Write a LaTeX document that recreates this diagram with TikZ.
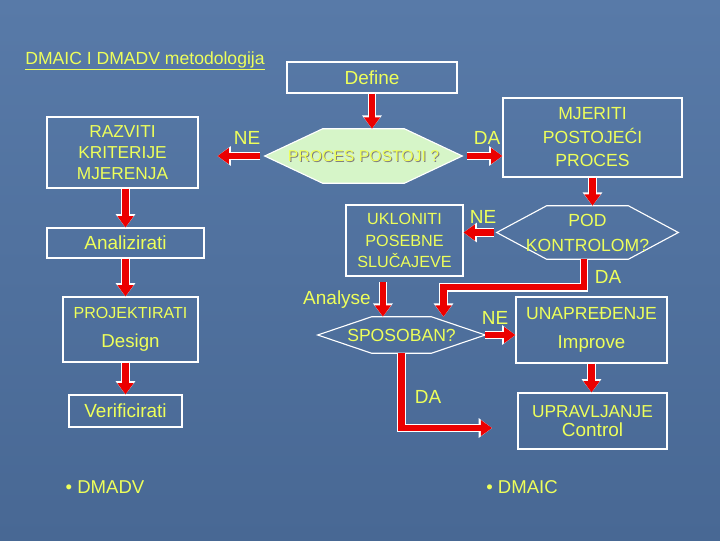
\documentclass[tikz,border=0pt]{standalone}
\usepackage{fontspec}
\setmainfont{Liberation Sans}
\usetikzlibrary{arrows.meta}
\definecolor{slidebluetop}{RGB}{88,122,168}
\definecolor{slidebluebot}{RGB}{72,104,148}
\definecolor{txtyellow}{RGB}{238,255,90}
\definecolor{arrowred}{RGB}{235,0,0}
\definecolor{lightgreen}{RGB}{214,245,200}
\pgfdeclarelayer{back}
\pgfdeclarelayer{mid}
\pgfsetlayers{back,mid,main}
\newcommand{\hexframe}[3][]{%
  \draw [draw=white, line width=0.8pt, #1] (#2.west) -- ([xshift=#3]#2.north west) -- ([xshift=-#3]#2.north east)
    -- (#2.east) -- ([xshift=-#3]#2.south east) -- ([xshift=#3]#2.south west) -- cycle;}

\begin{document}
\begin{tikzpicture}[x=0.025cm,y=-0.025cm,
    box/.style={draw=white, line width=0.8pt, text=txtyellow, align=center, inner sep=0pt},
    hexa/.style={text=txtyellow, align=center, inner sep=0pt},
    caps/.style={font=\fontsize{12.3}{15}\selectfont},
    words/.style={font=\fontsize{13.5}{16}\selectfont},
    lbl/.style={text=txtyellow, font=\fontsize{13.5}{16}\selectfont},
    redarrow/.style={draw=arrowred, line width=4.5pt, -{Triangle[length=8pt,width=11pt]},
      preaction={draw=white, line width=6pt, -{Triangle[length=9.5pt,width=13.5pt]}}}]
      \useasboundingbox (0,0) rectangle (720,540);
      \begin{pgfonlayer}{back}
        \shade [top color=slidebluetop, bottom color=slidebluebot] (0,0) rectangle (720,540);
      \end{pgfonlayer}

      \node [lbl, font=\fontsize{12.5}{15}\selectfont] (title) at (145,61) {\underline{DMAIC I DMADV metodologija}};

      \node [box, words, minimum width=4.25cm, minimum height=0.775cm] (define) at (372,77.5) {Define};
      \node [hexa, minimum width=4.925cm, minimum height=1.35cm,
        font=\fontsize{11.2}{13}\selectfont] (proces) at (363.5,156) {PROCES POSTOJI ?};
      \node [box, caps, minimum width=3.775cm, minimum height=1.775cm] (razviti) at (122.5,152.5) {RAZVITI\\KRITERIJE\\MJERENJA};
      \node [box, font=\fontsize{12.5}{16.7}\selectfont, minimum width=4.475cm, minimum height=1.975cm] (mjeriti) at (592.5,137.5) {MJERITI\\POSTOJEĆI\\PROCES};
      \node [hexa, font=\fontsize{12.5}{17.8}\selectfont, minimum width=4.525cm, minimum height=1.325cm] (pod) at (587.5,232.5) {POD\\KONTROLOM?};
      \node [box, font=\fontsize{11.5}{15.3}\selectfont, minimum width=2.925cm, minimum height=1.775cm] (ukloniti) at (404.5,240.5) {UKLONITI\\POSEBNE\\SLUČAJEVE};
      \node [hexa, font=\fontsize{12.5}{15}\selectfont, minimum width=4.175cm, minimum height=0.9cm] (sposoban) at (401.5,335) {SPOSOBAN?};
      \node [box, minimum width=3.775cm, minimum height=1.65cm] (unapredjenje) at (591.5,330)
        {\fontsize{12.5}{15}\selectfont UNAPREĐENJE\\[9pt]\fontsize{13.3}{16}\selectfont Improve};
      \node [box, minimum width=3.725cm, minimum height=1.4cm] (upravljanje) at (592.5,421)
        {\fontsize{12.3}{15}\selectfont UPRAVLJANJE\\[2pt]\fontsize{13.5}{16}\selectfont Control};

      \node [box, words, minimum width=3.925cm, minimum height=0.75cm] (analizirati) at (125.5,243) {Analizirati};
      \node [box, minimum width=3.375cm, minimum height=1.625cm] (projektirati) at (130.5,329.5)
        {\fontsize{11.4}{14}\selectfont PROJEKTIRATI\\[9pt]\fontsize{13.3}{16}\selectfont Design};
      \node [box, words, minimum width=2.825cm, minimum height=0.8cm] (verificirati) at (125.5,411) {Verificirati};

      \begin{pgfonlayer}{mid}
        \hexframe[fill=lightgreen]{proces}{1.45cm}
        \hexframe{pod}{1.25cm}
        \hexframe{sposoban}{1.35cm}
        \node [text=black!50, font=\fontsize{11.2}{13}\selectfont, inner sep=0pt] (processhadow)
          at ([xshift=0.7pt,yshift=-0.7pt]proces.center) {PROCES POSTOJI ?};
      \end{pgfonlayer}

      \draw [redarrow] (define.south) -- (define.south |- proces.north);
      \draw [redarrow, shorten <=3pt, shorten >=13.5pt] (proces.west) -- (proces.west -| razviti.east);
      \draw [redarrow, shorten <=3pt] (proces.east) -- (proces.east -| mjeriti.west);
      \draw [redarrow] (mjeriti.south) -- (mjeriti.south |- pod.north);
      \draw [redarrow, shorten <=2pt] (pod.west) -- (pod.west -| ukloniti.east);
      \coordinate (spotop) at ([xshift=1.05cm]sposoban.north);
      \draw [redarrow] ([xshift=-0.09cm]pod.south) -- ++(0,28) -| (spotop);
      \coordinate (uklbot) at ([xshift=-0.54cm]ukloniti.south);
      \draw [redarrow, shorten <=4pt] (uklbot) -- (uklbot |- sposoban.north);
      \draw [redarrow] (sposoban.east) -- (sposoban.east -| unapredjenje.west);
      \draw [redarrow] (unapredjenje.south) -- (unapredjenje.south |- upravljanje.north);
      \coordinate (daend) at (492,428);
      \draw [redarrow] (sposoban.south) |- (daend);

      \draw [redarrow] (razviti.south -| analizirati.north) -- (analizirati.north);
      \draw [redarrow] (analizirati.south) -- (analizirati.south |- projektirati.north);
      \draw [redarrow] (projektirati.south -| verificirati.north) -- (verificirati.north);

      \node [lbl] (ne1) at (247,138) {NE};
      \node [lbl] (da1) at (487,138) {DA};
      \node [lbl] (ne2) at (483,217) {NE};
      \node [lbl] (da2) at (608,277) {DA};
      \node [lbl] (analyse) at (337,300) {Analyse};
      \node [lbl] (ne3) at (495,318) {NE};
      \node [lbl] (da3) at (428,397) {DA};

      \node [lbl, font=\fontsize{13.2}{16}\selectfont] (dmadv) at (105,487) {• DMADV};
      \node [lbl, font=\fontsize{13.2}{16}\selectfont] (dmaic) at (522,487) {• DMAIC};
    \end{tikzpicture}
\end{document}
